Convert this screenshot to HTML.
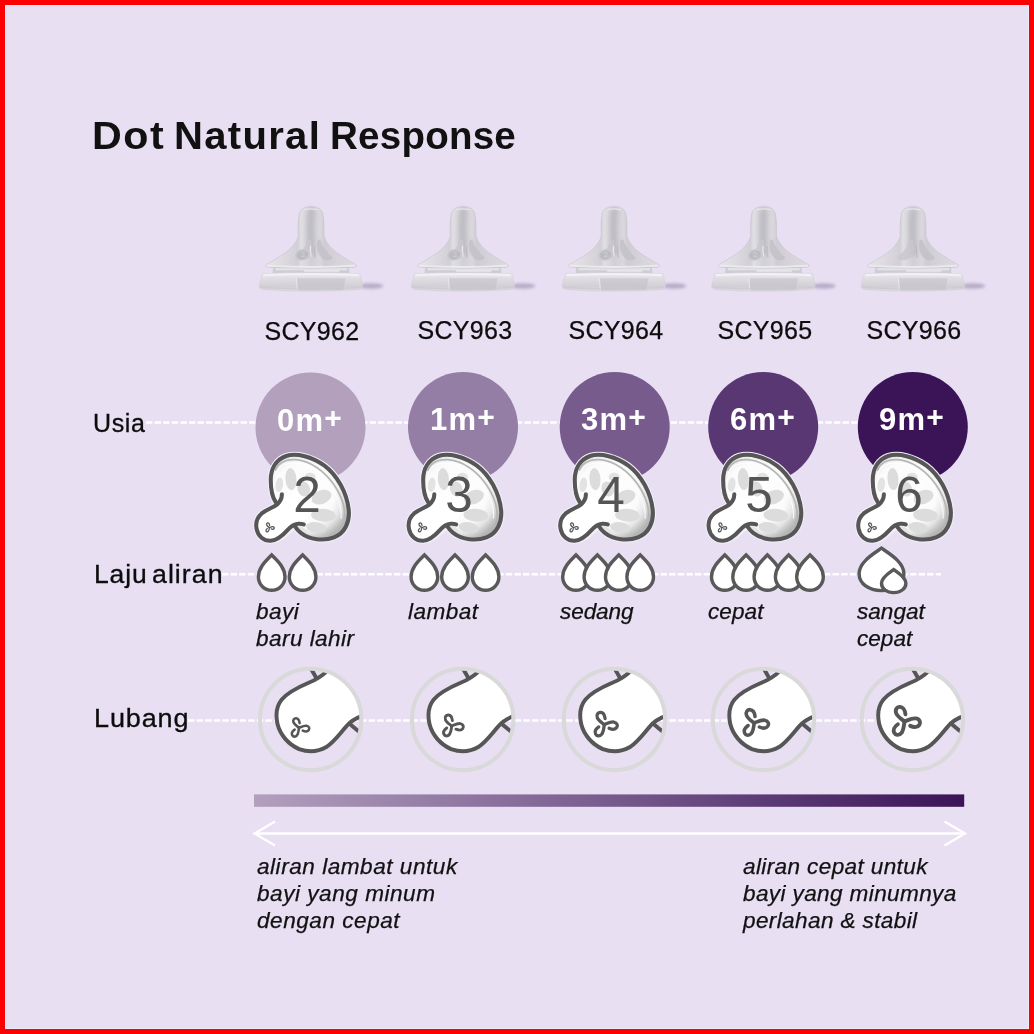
<!DOCTYPE html>
<html lang="id">
<head>
<meta charset="utf-8">
<title>Dot Natural Response</title>
<style>
html,body{margin:0;padding:0;}
body{width:1034px;height:1034px;overflow:hidden;background:#e8dff3;position:relative;font-family:"Liberation Sans",sans-serif;color:#111;}
#frame{position:absolute;left:0;top:0;width:1024px;height:1024px;border:5px solid #fe0000;box-shadow:inset 0 0 0 1px #e9edfb;pointer-events:none;z-index:10;}
#gfx{position:absolute;left:0;top:0;width:1034px;height:1034px;z-index:1;}
.t{will-change:transform;position:absolute;white-space:nowrap;line-height:1;z-index:5;transform-origin:0 0;}
.title{font-weight:bold;font-size:38.5px;left:92.8px;top:117px;letter-spacing:0.45px;transform:scaleX(1.03);}
.lbl{font-size:25px;-webkit-text-stroke:0.3px #0c0c0c;color:#0c0c0c;}
.code{-webkit-text-stroke:0.25px #0c0c0c;color:#0c0c0c;font-size:25px;text-align:center;width:140px;letter-spacing:0.35px;}
.age{font-weight:bold;font-size:31px;color:#fff;text-align:center;width:114px;letter-spacing:1.2px;}
.age sup{font-size:30px;vertical-align:baseline;position:relative;top:-3.5px;}
.it{-webkit-text-stroke:0.25px #111;font-style:italic;font-size:21.5px;line-height:27px;white-space:pre;letter-spacing:0.42px;transform:scaleX(1.05);}
.num{font-size:49.5px;color:#555;text-align:center;width:60px;}
</style>
</head>
<body>
<div id="frame"></div>
<svg id="gfx" width="1034" height="1034" viewBox="0 0 1034 1034">
<defs>
<linearGradient id="bar" x1="0" y1="0" x2="1" y2="0">
<stop offset="0" stop-color="#b2a0bd"/><stop offset="0.25" stop-color="#957ea6"/><stop offset="0.5" stop-color="#785b8d"/><stop offset="0.75" stop-color="#583772"/><stop offset="1" stop-color="#3b1457"/>
</linearGradient>
<path id="drop" d="M0 0C5.4 5.6 13.3 12.2 13.3 22C13.3 29.4 7.3 35.3 0 35.3C-7.3 35.3 -13.3 29.4 -13.3 22C-13.3 12.2 -5.4 5.6 0 0Z" fill="#fff" stroke="#595959" stroke-width="3.4" stroke-linejoin="miter" stroke-miterlimit="10"/>
<radialGradient id="domeG" gradientUnits="userSpaceOnUse" cx="500" cy="430" r="470">
<stop offset="0" stop-color="#ffffff"/><stop offset="0.62" stop-color="#fbfbfb"/><stop offset="0.8" stop-color="#e6e6e6"/><stop offset="0.93" stop-color="#c4c4c4"/><stop offset="1" stop-color="#b4b4b4"/>
</radialGradient>
<g id="icon">
<!-- white halo -->
<path d="M243 512C215 470 195 400 195 300C195 200 240 110 340 75C440 45 580 80 700 165C820 255 910 420 928 580C940 700 890 800 790 840C690 880 560 860 480 800C455 780 440 765 425 740C400 745 375 765 350 790C310 830 260 868 195 872C130 875 75 830 62 760C50 700 70 650 110 615C160 575 215 560 250 535Z" fill="#fff" stroke="#f3eef8" stroke-width="58" stroke-linejoin="round"/>
<!-- dome fill -->
<path d="M243 512C215 470 195 400 195 300C195 200 240 110 340 75C440 45 580 80 700 165C820 255 910 420 928 580C940 700 890 800 790 840C690 880 560 860 480 800C455 780 440 765 425 740Z" fill="url(#domeG)"/>
<!-- inner rim -->
<path d="M240 205C268 138 340 104 430 110C560 118 698 214 788 344C860 448 900 566 888 668C878 746 836 794 764 814" fill="none" stroke="#b6b6b6" stroke-width="17" stroke-linecap="round"/>
<path d="M238 262C255 172 335 134 424 140C546 148 676 238 760 362C828 460 864 570 856 660" fill="none" stroke="#ffffff" stroke-width="12" stroke-linecap="round" opacity="0.8"/>
<!-- petals -->
<g fill="#dcdcdc">
<ellipse cx="385" cy="292" rx="52" ry="105" transform="rotate(-4 385 292)"/>
<ellipse cx="275" cy="345" rx="36" ry="68" transform="rotate(8 275 345)" fill="#e3e3e3"/>
<ellipse cx="565" cy="272" rx="52" ry="40" fill="#e2e2e2"/>
<ellipse cx="505" cy="385" rx="58" ry="72" transform="rotate(-20 505 385)"/>
<ellipse cx="672" cy="462" rx="98" ry="64" transform="rotate(-22 672 462)"/>
<ellipse cx="690" cy="632" rx="116" ry="60" transform="rotate(3 690 632)"/>
<ellipse cx="622" cy="748" rx="95" ry="50" transform="rotate(10 622 748)"/>
<ellipse cx="490" cy="775" rx="58" ry="28" transform="rotate(32 490 775)" fill="#e4e4e4"/>
</g>
<!-- neck fill -->
<path d="M300 435C300 470 285 505 250 535C215 560 160 575 110 615C70 650 50 700 62 760C75 830 130 875 195 872C260 868 310 820 350 775C380 740 410 715 450 712C470 710 490 712 505 718L560 560Z" fill="#fff"/>
<!-- outlines -->
<g fill="none" stroke="#565656" stroke-width="38" stroke-linecap="round" stroke-linejoin="round">
<path d="M243 512C215 470 195 400 195 300C195 200 240 110 340 75C440 45 580 80 700 165C820 255 910 420 928 580C940 700 890 800 790 840C690 880 560 860 480 800C455 780 440 765 425 740"/>
<path d="M300 435C300 470 285 505 250 535C215 560 160 575 110 615C70 650 50 700 62 760C75 830 130 875 195 872C260 868 310 820 350 775C380 740 410 715 450 712C470 710 490 712 505 718"/>
</g>
<!-- trefoil -->
<g transform="translate(182 748) scale(4.6)" fill="none" stroke="#565656" stroke-width="2.6" stroke-linecap="round" stroke-linejoin="round">
<path id="lobe" d="M0 0C-2 -1.6 -4.6 -3.2 -5.4 -5.4C-6.3 -8 -4.6 -9.5 -2.9 -9.4C-1.2 -9.3 0.3 -7.5 0.6 -4.6"/>
<use href="#lobe" transform="rotate(120)"/>
<use href="#lobe" transform="rotate(240)"/>
</g>
</g>
<clipPath id="ringClip"><circle cx="485.3" cy="476.4" r="372"/></clipPath>
<g id="hole">
<g clip-path="url(#ringClip)">
<path d="M600 125C560 160 520 185 470 205C400 235 320 270 270 330C230 380 225 440 240 510C260 590 320 660 400 695C470 720 540 715 600 680C660 640 700 580 750 525C780 490 810 470 850 455L950 455L950 60L600 60Z" fill="#fff"/>
<g fill="none" stroke="#565656" stroke-width="29" stroke-linecap="butt" stroke-linejoin="round">
<path d="M610 115C565 158 520 185 470 205C400 235 320 270 270 330C230 380 225 440 240 510C260 590 320 660 400 695C470 720 540 715 600 680C660 640 700 580 750 525C780 490 815 468 870 448"/>
<path d="M527 170L490 105"/>
<path d="M772 507L845 568"/>
</g>
</g>
<circle cx="485.3" cy="476.4" r="374.5" fill="none" stroke="#d9d9d9" stroke-width="30"/>
</g>
<g id="tref" fill="none" stroke="#565656" stroke-width="2.5" stroke-linecap="round" stroke-linejoin="round">
<use href="#lobe"/>
<use href="#lobe" transform="rotate(120)"/>
<use href="#lobe" transform="rotate(240)"/>
</g>
<filter id="soft" x="-10%" y="-10%" width="120%" height="120%"><feGaussianBlur stdDeviation="4.5"/></filter>
<filter id="soft2" x="-30%" y="-100%" width="160%" height="300%"><feGaussianBlur stdDeviation="10"/></filter>
<filter id="soft3" filterUnits="userSpaceOnUse" x="300" y="50" width="300" height="500"><feGaussianBlur stdDeviation="14"/></filter>
<linearGradient id="bodyG" gradientUnits="userSpaceOnUse" x1="115" y1="0" x2="788" y2="0">
<stop offset="0" stop-color="#e6e5e9"/><stop offset="0.2" stop-color="#dcdadf"/><stop offset="0.355" stop-color="#d2d0d6"/><stop offset="0.39" stop-color="#e0dfe3"/><stop offset="0.5" stop-color="#d2d0d6"/><stop offset="0.6" stop-color="#dad8dd"/><stop offset="0.645" stop-color="#cfcdd3"/><stop offset="0.8" stop-color="#d6d4da"/><stop offset="1" stop-color="#dddbe0"/>
</linearGradient>
<linearGradient id="baseG" x1="0" y1="0" x2="0" y2="1">
<stop offset="0" stop-color="#eceaee"/><stop offset="0.3" stop-color="#e0dee3"/><stop offset="0.75" stop-color="#d2d0d6"/><stop offset="1" stop-color="#dedce1"/>
</linearGradient>
<g id="nip">
<!-- cast shadow -->
<ellipse cx="895" cy="672" rx="90" ry="20" fill="#8d82a2" opacity="0.55" filter="url(#soft2)"/>
<g filter="url(#soft)">
<!-- neck -->
<path d="M172 520L730 520L736 590L166 590Z" fill="#cfcdd4"/>
<rect x="188" y="540" width="530" height="16" fill="#e6e5e9" opacity="0.9"/>
<rect x="400" y="556" width="260" height="10" fill="#f0eff2" opacity="0.9"/>
<!-- base ring -->
<path d="M91 580Q450 564 811 580L832 668Q836 694 800 699Q450 724 100 699Q64 694 68 668Z" fill="url(#baseG)" stroke="#cbc9d0" stroke-width="5" stroke-opacity="0.6"/>
<path d="M100 592Q450 576 802 592" fill="none" stroke="#f1f0f3" stroke-width="16"/>
<path d="M345 614L352 706L688 702L706 614Z" fill="#bfbdc5" opacity="0.5"/>
<path d="M343 614L350 706" fill="none" stroke="#efeef1" stroke-width="7" opacity="0.8"/>
<path d="M80 682Q450 708 820 682" fill="none" stroke="#c8c6cd" stroke-width="8" opacity="0.6"/>
<!-- body -->
<path d="M450 86C500 86 536 104 540 150C547 190 548 240 546 297C551 335 583 375 616 406C641 430 723 480 786 517Q793 528 772 534Q450 548 130 534Q109 528 117 517C180 480 262 430 287 406C320 375 352 335 357 297C354 240 355 190 362 150C366 104 400 86 450 86Z" fill="url(#bodyG)" stroke="#c3c1c8" stroke-width="6" stroke-opacity="0.7"/>
<path d="M120 522Q450 542 780 522" fill="none" stroke="#ebeaee" stroke-width="14"/>
<path d="M452 130C440 200 445 300 452 420" fill="none" stroke="#b2b0b8" stroke-width="60" stroke-linecap="round" opacity="0.6" filter="url(#soft3)"/>
<path d="M400 108Q450 98 500 108" fill="none" stroke="#eceaef" stroke-width="10" stroke-linecap="round" opacity="0.8"/>
<!-- ribs / petals -->
<path d="M425 330C410 390 372 425 335 462C350 492 415 488 445 452C468 415 458 360 450 330Z" fill="#c9c7ce" opacity="0.8"/>
<path d="M500 330C488 380 498 430 530 466C560 492 602 484 612 462C570 425 532 380 522 330Z" fill="#c4c2c9" opacity="0.9"/>
<path d="M478 380C474 410 476 440 484 465" fill="none" stroke="#b9b7bf" stroke-width="8" opacity="0.8"/>
</g>
</g>
<g id="badge" filter="url(#soft)">
<ellipse cx="388" cy="442" rx="54" ry="42" fill="#cac8cf" transform="rotate(-15 388 442)"/>
<ellipse cx="388" cy="442" rx="42" ry="31" fill="#bcbac2" transform="rotate(-15 388 442)"/>
<path d="M372 430Q388 416 400 428Q404 440 376 456L408 452" fill="none" stroke="#d2d0d6" stroke-width="6" stroke-linecap="round" stroke-linejoin="round"/>
<path d="M447 380C443 405 445 430 452 452" fill="none" stroke="#eceaef" stroke-width="9" stroke-linecap="round" opacity="0.9"/>
</g>
</defs>
<!-- product teats -->
<g id="nips">
<use href="#nip" transform="translate(250 195) scale(0.13539)"/><use href="#badge" transform="translate(250 195) scale(0.13539)"/>
<use href="#nip" transform="translate(402 195) scale(0.13539)"/><use href="#badge" transform="translate(402 195) scale(0.13539)"/>
<use href="#nip" transform="translate(553 195) scale(0.13539)"/><use href="#badge" transform="translate(553 195) scale(0.13539)"/>
<use href="#nip" transform="translate(702.5 195) scale(0.13539)"/><use href="#badge" transform="translate(702.5 195) scale(0.13539)"/>
<use href="#nip" transform="translate(852 195) scale(0.13539)"/>
</g>
<!-- dashed guide lines -->
<g stroke="#fff" stroke-width="2.4" stroke-dasharray="6.4 2.2" fill="none">
<path d="M146 422.5H940"/>
<path d="M222 574.3H941"/>
<path d="M188 720.5H940"/>
</g>
<!-- age circles -->
<circle cx="310.5" cy="427.5" r="55" fill="#b2a0bd"/>
<circle cx="463" cy="427" r="55" fill="#957ea6"/>
<circle cx="614.7" cy="427" r="55" fill="#785b8d"/>
<circle cx="763.2" cy="427" r="55" fill="#583772"/>
<circle cx="912.8" cy="427" r="55" fill="#3b1457"/>
<!-- teat icons -->
<g id="icons">
<use href="#icon" transform="translate(250 448) scale(0.10638)"/>
<use href="#icon" transform="translate(402.4 448) scale(0.10638)"/>
<use href="#icon" transform="translate(554 448) scale(0.10638)"/>
<use href="#icon" transform="translate(702.4 448) scale(0.10638)"/>
<use href="#icon" transform="translate(852 448) scale(0.10638)"/>
</g>
<!-- flow drops -->
<g id="drops">
<use href="#drop" x="271.7" y="555"/><use href="#drop" x="302.6" y="555"/>
<use href="#drop" x="424.4" y="555"/><use href="#drop" x="455" y="555"/><use href="#drop" x="485.6" y="555"/>
<use href="#drop" x="576" y="555"/><use href="#drop" x="597.4" y="555"/><use href="#drop" x="618.8" y="555"/><use href="#drop" x="640.2" y="555"/>
<use href="#drop" x="724.8" y="555"/><use href="#drop" x="746.1" y="555"/><use href="#drop" x="767.4" y="555"/><use href="#drop" x="788.7" y="555"/><use href="#drop" x="810" y="555"/>
<g fill="#fff" stroke="#595959" stroke-width="3.4" stroke-linejoin="miter" stroke-miterlimit="10">
<path d="M881.5 548.2C889 553.5 903.9 562 903.9 573.5C903.9 584 894 590.6 881.5 590.6C869 590.6 859.1 584 859.1 573.5C859.1 562 874 553.5 881.5 548.2Z"/>
<path d="M893.7 569.5C897.7 572.5 905.9 577 905.9 583.2C905.9 588.8 900.5 592.6 893.7 592.6C886.9 592.6 881.5 588.8 881.5 583.2C881.5 577 889.7 572.5 893.7 569.5Z"/>
</g>
</g>
<!-- hole icons -->
<g id="holes">
<use href="#hole" transform="translate(245 655) scale(0.13539)"/>
<use href="#hole" transform="translate(397 655) scale(0.13539)"/>
<use href="#hole" transform="translate(548.7 655) scale(0.13539)"/>
<use href="#hole" transform="translate(697.8 655) scale(0.13539)"/>
<use href="#hole" transform="translate(846.7 655) scale(0.13539)"/>
<use href="#tref" transform="translate(299 727.8) scale(1.02)"/>
<use href="#tref" transform="translate(451.7 725.9) scale(1.16)"/>
<use href="#tref" transform="translate(604.3 724.6) scale(1.3)"/>
<use href="#tref" transform="translate(754.2 723) scale(1.42)"/>
<use href="#tref" transform="translate(904.5 721.5) scale(1.55)"/>
</g>
<!-- gradient bar -->
<rect x="254" y="794.4" width="710.2" height="12.4" fill="url(#bar)"/>
<!-- arrow -->
<g stroke="#fff" stroke-width="2.4" fill="none" stroke-linejoin="miter" stroke-linecap="butt">
<path d="M255 833.5H964"/>
<path d="M275 821.5L254.5 833.5L275 845.5"/>
<path d="M944.5 821.5L965 833.5L944.5 845.5"/>
</g>
</svg>

<div class="t title" style="left:92px;letter-spacing:1.5px;transform:scaleX(1.07);">Dot</div>
<div class="t title" style="left:173.5px;letter-spacing:1.25px;transform:scaleX(1.04);">Natural</div>
<div class="t title" style="left:330px;letter-spacing:0.25px;transform:scaleX(1.0);">Response</div>

<div class="t lbl" style="left:93.2px;top:411.3px;letter-spacing:0.6px;">Usia</div>
<div class="t lbl" style="left:93.8px;top:562px;letter-spacing:0.8px;transform:scaleX(1.06);">Laju</div>
<div class="t lbl" style="left:152px;top:562px;letter-spacing:0.95px;transform:scaleX(1.07);">aliran</div>
<div class="t lbl" style="left:94.3px;top:706px;letter-spacing:0.8px;transform:scaleX(1.08);">Lubang</div>

<div class="t code" style="left:242.4px;top:319.2px;">SCY962</div>
<div class="t code" style="left:394.8px;top:318px;">SCY963</div>
<div class="t code" style="left:546.4px;top:318px;">SCY964</div>
<div class="t code" style="left:694.7px;top:318px;">SCY965</div>
<div class="t code" style="left:843.6px;top:318px;">SCY966</div>

<div class="t age" style="left:252.5px;top:404.5px;">0m<sup>+</sup></div>
<div class="t age" style="left:405.5px;top:404px;">1m<sup>+</sup></div>
<div class="t age" style="left:557px;top:404px;">3m<sup>+</sup></div>
<div class="t age" style="left:705.5px;top:404px;">6m<sup>+</sup></div>
<div class="t age" style="left:855px;top:404px;">9m<sup>+</sup></div>


<div class="t num" style="left:276.9px;top:470px;">2</div>
<div class="t num" style="left:429.3px;top:470px;">3</div>
<div class="t num" style="left:580.9px;top:470px;">4</div>
<div class="t num" style="left:729.3px;top:470px;">5</div>
<div class="t num" style="left:878.9px;top:470px;">6</div>
<div class="t it" style="left:255.5px;top:599px;">bayi
baru lahir</div>
<div class="t it" style="left:408px;top:599px;">lambat</div>
<div class="t it" style="left:559.5px;top:599px;letter-spacing:-0.1px;">sedang</div>
<div class="t it" style="left:708px;top:599px;letter-spacing:0.05px;">cepat</div>
<div class="t it" style="left:857px;top:599px;letter-spacing:0px;">sangat
cepat</div>

<div class="t it" style="left:257.3px;top:853.5px;letter-spacing:0.5px;">aliran lambat untuk
bayi yang minum
dengan cepat</div>
<div class="t it" style="left:742.8px;top:853.5px;letter-spacing:0.35px;">aliran cepat untuk
bayi yang minumnya
perlahan &amp; stabil</div>
</body>
</html>
